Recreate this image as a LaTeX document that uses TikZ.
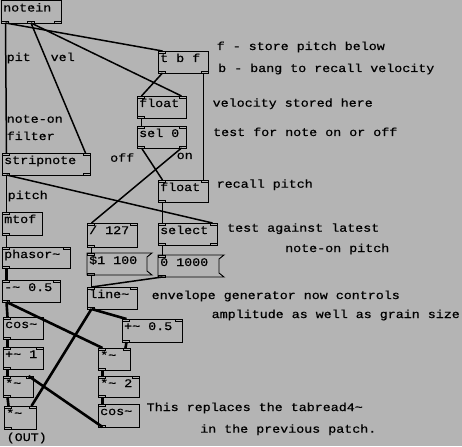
\documentclass[tikz,border=0pt]{standalone}
\usepackage{fontspec}
\setmainfont{Liberation Mono}[FakeStretch=1.15,FakeBold=0.6]
\usetikzlibrary{calc}
\definecolor{bg}{RGB}{180,180,180}
\newcommand\pdtl{\textasciitilde}
\tikzset{
  pdbox/.style={draw=black, line width=0.9pt, inner sep=0pt, outer sep=0pt, anchor=north west},
  msgframe/.style={draw=none, inner sep=0pt, outer sep=0pt, anchor=north west},
  port/.style={draw=black, line width=0.6pt},
  ctl/.style={draw=black, line width=1.5pt},
  sig/.style={draw=black, line width=2.6pt},
  boxtxt/.style={anchor=base west, inner sep=0pt, font=\fontsize{11.6}{13}\selectfont},
  cmt/.style={anchor=base west, inner sep=0pt, font=\fontsize{11.6}{13}\selectfont},
}
\newcommand\pdports[6]{%
  \ifnum#5>0
    \foreach \i in {1,...,#5}{%
      \pgfmathsetmacro\px{#1+(\i-1)*(#3-#1-7)/max(#5-1,1)}%
      \draw[port] (\px,#2) rectangle ++(7,2);}%
  \fi
  \ifnum#6>0
    \foreach \i in {1,...,#6}{%
      \pgfmathsetmacro\px{#1+(\i-1)*(#3-#1-7)/max(#6-1,1)}%
      \draw[port] (\px,#4) rectangle ++(7,-2);}%
  \fi}
\newcommand\pdobj[8]{%
  \node[pdbox, minimum width={(#4-#2)*1pt}, minimum height={(#5-#3)*1pt}] (#1) at (#2,#3) {};
  \node[boxtxt] (#1-t) at (#2+2,#3+11) {#6};
  \pdports{#2}{#3}{#4}{#5}{#7}{#8}}
\newcommand\pdmsg[6]{%
  \node[msgframe, minimum width={(#4-#2)*1pt}, minimum height={(#5-#3)*1pt}] (#1) at (#2,#3) {};
  \draw[line width=0.9pt] (#1.north west) -- (#1.north east) -- ++(-5,4) -- ($(#1.south east)+(-5,-4)$) -- (#1.south east) -- (#1.south west) -- cycle;
  \node[boxtxt] (#1-t) at (#2+2,#3+11) {#6};
  \pdports{#2}{#3}{#2+7}{#5}{1}{1}}
\begin{document}
\begin{tikzpicture}[x=1pt,y=-1pt]
\path[use as bounding box, fill=bg] (0,0) rectangle (462,446);

% objects
\pdobj{notein}{1}{0.5}{61}{23}{notein}{0}{3}
\pdobj{tbf}{158}{51}{208}{73}{t b f}{1}{2}
\pdobj{fl1}{137}{96}{186}{118}{float}{2}{1}
\pdobj{sel}{137}{126}{186}{148}{sel 0}{2}{2}
\pdobj{strip}{2}{153}{90}{175}{stripnote}{2}{2}
\pdobj{fl2}{158}{180}{208}{202}{float}{2}{1}
\pdobj{mtof}{2}{212}{42}{235}{mtof}{1}{1}
\pdobj{div}{87}{223}{137}{247}{/ 127}{2}{1}
\pdobj{select}{158}{223}{217}{245}{select}{2}{2}
\pdobj{phasor}{2}{247}{70}{268}{phasor\pdtl}{2}{1}
\pdmsg{msga}{87}{253}{152}{275}{\$1 100}
\pdmsg{msgb}{158}{255}{224}{277}{0 1000}
\pdobj{line}{87}{287}{137}{309}{line\pdtl}{2}{1}
\pdobj{subm}{2}{280}{60}{302}{-\pdtl{} 0.5}{2}{1}
\pdobj{addh}{122}{319}{182}{342}{+\pdtl{} 0.5}{2}{1}
\pdobj{cosl}{3}{317}{43}{339}{cos\pdtl}{1}{1}
\pdobj{addone}{3}{347}{43}{369}{+\pdtl{} 1}{2}{1}
\pdobj{mull}{3}{376}{33}{397}{*\pdtl}{2}{1}
\pdobj{mulo}{4}{406}{36}{429}{*\pdtl}{2}{1}
\pdobj{mulm}{98}{348}{130}{370}{*\pdtl}{2}{1}
\pdobj{multwo}{98}{376}{139}{397}{*\pdtl{} 2}{2}{1}
\pdobj{cosr}{98}{404}{139}{427}{cos\pdtl}{1}{1}

% control connections
\draw[ctl] ([xshift=4.5pt]notein.south west) -- ([xshift=4.5pt]strip.north west);
\draw[ctl] ([xshift=4.5pt]notein.south west) -- ([xshift=4.5pt]tbf.north west);
\draw[ctl] ([xshift=30pt]notein.south west) -- ([xshift=-4.5pt]strip.north east);
\draw[ctl] ([xshift=30pt]notein.south west) -- ([xshift=-4.5pt]fl1.north east);
\draw[ctl] ([xshift=4.5pt]tbf.south west) -- ([xshift=4.5pt]fl1.north west);
\draw[ctl] ([xshift=-4.5pt]tbf.south east) -- ([xshift=-4.5pt]fl2.north east);
\draw[ctl] ([xshift=4.5pt]fl1.south west) -- ([xshift=4.5pt]sel.north west);
\draw[ctl] ([xshift=4.5pt]sel.south west) -- ([xshift=4.5pt]fl2.north west);
\draw[ctl] ([xshift=-4.5pt]sel.south east) -- ([xshift=4.5pt]div.north west);
\draw[ctl] ([xshift=4.5pt]strip.south west) -- ([xshift=4.5pt]mtof.north west);
\draw[ctl] ([xshift=4.5pt]strip.south west) -- ([xshift=-4.5pt]select.north east);
\draw[ctl] ([xshift=4.5pt]fl2.south west) -- ([xshift=4.5pt]select.north west);
\draw[ctl] ([xshift=4.5pt]mtof.south west) -- ([xshift=4.5pt]phasor.north west);
\draw[ctl] ([xshift=4.5pt]div.south west) -- ([xshift=4.5pt]msga.north west);
\draw[ctl] ([xshift=4.5pt]select.south west) -- ([xshift=4.5pt]msgb.north west);
\draw[ctl] ([xshift=4.5pt]msga.south west) -- ([xshift=4.5pt]line.north west);
\draw[ctl] ([xshift=4.5pt]msgb.south west) -- ([xshift=4.5pt]line.north west);

% signal connections
\draw[sig] ([xshift=4.5pt]phasor.south west) -- ([xshift=4.5pt]subm.north west);
\draw[sig] ([xshift=4.5pt]subm.south west) -- ([xshift=4.5pt]cosl.north west);
\draw[sig] ([xshift=4.5pt]subm.south west) -- ([xshift=4.5pt]mulm.north west);
\draw[sig] ([xshift=4.5pt]cosl.south west) -- ([xshift=4.5pt]addone.north west);
\draw[sig] ([xshift=4.5pt]addone.south west) -- ([xshift=4.5pt]mull.north west);
\draw[sig] ([xshift=4.5pt]mull.south west) -- ([xshift=4.5pt]mulo.north west);
\draw[sig] ([xshift=4.5pt]cosr.south west) -- ([xshift=-4.5pt]mull.north east);
\draw[sig] ([xshift=4.5pt]line.south west) -- ([xshift=-4.5pt]mulo.north east);
\draw[sig] ([xshift=4.5pt]line.south west) -- ([xshift=4.5pt]addh.north west);
\draw[sig] ([xshift=4.5pt]addh.south west) -- ([xshift=-4.5pt]mulm.north east);
\draw[sig] ([xshift=4.5pt]mulm.south west) -- ([xshift=4.5pt]multwo.north west);
\draw[sig] ([xshift=4.5pt]multwo.south west) -- ([xshift=4.5pt]cosr.north west);

% comments
\node[cmt] (c-pit) at (6.5,61) {pit};
\node[cmt] (c-vel) at (50.5,61) {vel};
\node[cmt] (c-noteon) at (6.5,122.7) {note-on};
\node[cmt] (c-filter) at (6.5,140) {filter};
\node[cmt] (c-off) at (110,161.7) {off};
\node[cmt] (c-on) at (176.5,159) {on};
\node[cmt] (c-pitch) at (7.5,199) {pitch};
\node[cmt] (c-f) at (216.5,50) {f - store pitch below};
\node[cmt] (c-b) at (218,72) {b - bang to recall velocity};
\node[cmt] (c-vs) at (212.5,106.7) {velocity stored here};
\node[cmt] (c-test) at (213,136) {test for note on or off};
\node[cmt] (c-rp) at (216.5,187.7) {recall pitch};
\node[cmt] (c-tal) at (227,231.7) {test against latest};
\node[cmt] (c-nop) at (285,252) {note-on pitch};
\node[cmt] (c-env) at (151.5,299) {envelope generator now controls};
\node[cmt] (c-amp) at (211.5,318) {amplitude as well as grain size};
\node[cmt] (c-this) at (146.5,411) {This replaces the tabread4\pdtl};
\node[cmt] (c-prev) at (200,432.7) {in the previous patch.};
\node[cmt] (c-out) at (6.5,441) {(OUT)};
\end{tikzpicture}
\end{document}
